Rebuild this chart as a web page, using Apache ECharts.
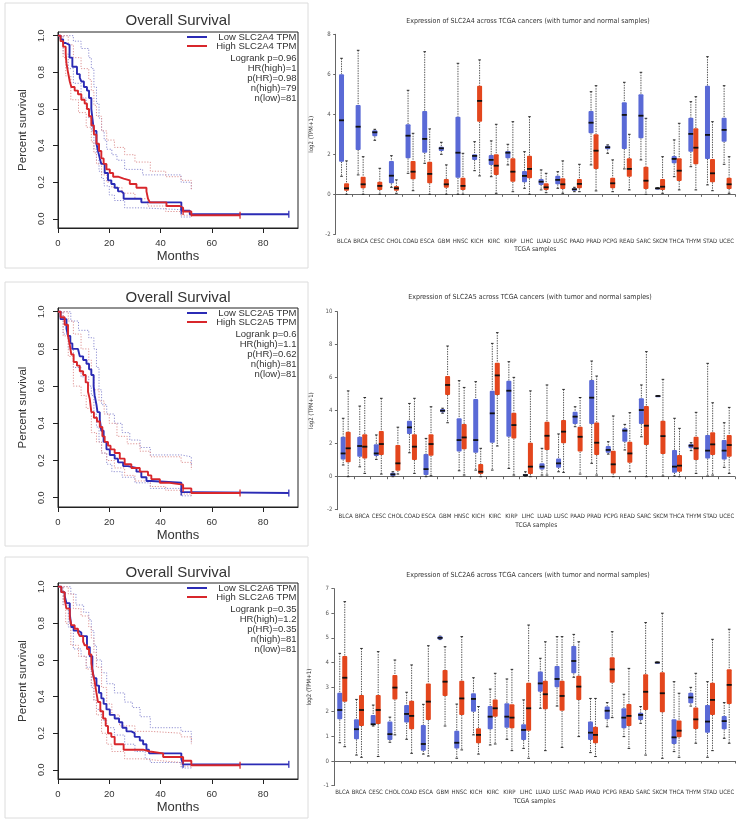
<!DOCTYPE html>
<html>
<head>
<meta charset="utf-8">
<script src="https://cdn.jsdelivr.net/npm/echarts/dist/echarts.min.js"></script>
<style>html,body{margin:0;padding:0;background:#fff;}#c{width:737px;height:819px;}</style>
</head>
<body>
<div id="c"></div>
<script>
// ---------------- DATA ----------------
const categories = ['BLCA','BRCA','CESC','CHOL','COAD','ESCA','GBM','HNSC','KICH','KIRC','KIRP','LIHC','LUAD','LUSC','PAAD','PRAD','PCPG','READ','SARC','SKCM','THCA','THYM','STAD','UCEC'];
const monthTicks = [0, 20, 40, 60, 80];
const survTicks = [0, 0.2, 0.4, 0.6, 0.8, 1.0];

// [min, q1, median, q3, max]  (normal = blue, tumor = red)
const slc2a4Normal = [[0.9,1.63,3.7,6.0,6.8],[0.97,2.22,3.38,4.47,7.2],[2.7,2.9,3.1,3.2,3.25],[0.35,0.55,0.93,1.67,1.93],[1.05,1.8,2.93,3.5,5.2],[1.55,2.08,2.77,4.17,7.13],[2.0,2.17,2.3,2.38,2.6],[0,0.83,2.08,3.88,6.55],[1.18,1.72,1.92,2.0,2.63],[0.88,1.47,1.72,1.97,2.67],[1.47,1.8,2.08,2.17,2.5],[0.3,0.6,0.92,1.17,2.13],[0.22,0.47,0.63,0.77,1.22],[0.3,0.5,0.72,0.93,1.13],[0.13,0.18,0.25,0.3,0.35],[1.47,3.05,3.58,4.17,5.13],[2.05,2.25,2.35,2.43,2.47],[1.27,2.27,3.97,4.6,5.6],[1.72,2.8,3.93,5.0,6.1],[0.27,0.28,0.3,0.32,0.33],[0.88,1.55,1.77,1.92,2.72],[1.38,2.13,3.02,3.83,4.63],[0.47,1.77,2.97,5.43,6.88],[1.5,2.63,3.22,3.83,5.43]];
const slc2a4Tumor = [[0,0.18,0.3,0.55,1.67],[0,0.3,0.5,0.88,1.88],[0,0.22,0.42,0.63,1.3],[0.05,0.18,0.3,0.42,0.72],[0.18,0.75,1.13,1.67,3.05],[0,0.55,1.02,1.63,3.27],[0,0.33,0.5,0.77,1.47],[0,0.22,0.42,0.83,2.05],[0.92,3.63,4.67,5.43,6.72],[0.05,0.97,1.43,2.0,3.5],[0.13,0.63,1.13,1.8,3.63],[0,0.8,1.27,1.93,3.88],[0.08,0.22,0.35,0.55,1.05],[0.05,0.27,0.5,0.8,1.67],[0.13,0.3,0.52,0.77,1.5],[0.17,1.27,2.18,3.0,5.43],[0.13,0.3,0.55,0.83,1.72],[0.22,0.88,1.27,1.8,3.0],[0,0.27,0.68,1.38,3.8],[0.05,0.22,0.38,0.77,1.88],[0.22,0.67,1.18,1.8,3.55],[0.22,1.5,2.33,3.3,4.88],[0.18,0.6,1.05,1.77,3.63],[0.05,0.27,0.5,0.83,1.88]];

const slc2a5Normal = [[0.71,1.05,1.41,2.42,3.54],[0.6,1.21,1.86,2.42,4.28],[1.05,1.25,1.41,1.96,2.53],[0,0.04,0.14,0.24,0.3],[1.45,2.59,2.99,3.39,4.44],[0,0.1,0.46,1.37,2.32],[3.85,3.9,4.0,4.1,4.15],[0.36,1.52,2.22,3.54,5.82],[0.4,1.45,2.22,4.71,5.76],[0.4,2.06,3.84,5.21,8.08],[0.5,2.42,5.21,5.82,6.97],[0.02,0.05,0.1,0.15,0.3],[0.1,0.44,0.61,0.81,1.72],[0.3,0.55,0.81,1.11,2.59],[3.03,3.19,3.64,3.94,4.24],[0.81,3.19,4.79,5.86,7.01],[1.37,1.45,1.62,1.86,2.12],[1.62,2.12,2.79,2.93,3.17],[2.42,3.19,4.04,4.75,5.56],[4.86,4.87,4.89,4.91,4.92],[0.04,0.24,0.61,1.62,3.54],[1.58,1.72,1.88,1.98,2.06],[0.04,1.11,1.58,2.53,6.87],[0.57,1.05,1.58,2.22,3.27]];
const slc2a5Tumor = [[0,0.87,1.72,2.73,5.2],[0.2,1.11,1.82,2.57,4.8],[0.16,1.31,1.98,2.77,4.75],[0.16,0.36,0.81,1.92,3.0],[0.2,1.01,1.82,2.57,4.75],[0.06,1.27,1.98,2.57,4.24],[3.27,4.95,5.56,6.1,7.92],[0.1,1.66,2.38,3.19,5.41],[0,0.16,0.3,0.77,1.72],[1.86,4.95,6.14,6.91,8.73],[0.1,2.32,3.13,3.88,6.02],[0,0.16,0.61,2.06,5.2],[0.1,1.62,2.48,3.33,5.56],[0.26,2.02,2.73,3.43,5.29],[0.16,1.52,2.42,3.03,4.8],[0.1,1.31,2.06,3.29,6.1],[0,0.2,0.75,1.58,3.68],[0.3,0.85,1.41,2.12,3.88],[0,1.92,3.09,4.28,7.58],[0.04,1.37,2.46,3.39,5.9],[0,0.3,0.67,1.31,2.93],[0.2,1.01,1.72,2.42,3.9],[0.1,1.31,1.96,2.69,4.48],[0.2,1.21,1.92,2.53,4.2]];

const slc2a6Normal = [[0.74,1.69,2.07,2.77,4.37],[0.24,0.88,1.29,1.69,2.5],[1.42,1.46,1.49,1.87,2.27],[0.76,0.85,1.09,1.6,1.78],[0.88,1.56,1.91,2.27,2.79],[0.28,0.42,0.69,1.46,2.3],[4.93,4.93,5.0,5.07,5.07],[0.11,0.51,0.74,1.23,2.31],[1.06,2.0,2.52,2.75,3.38],[0.65,1.29,1.8,2.23,2.92],[0.88,1.35,1.8,2.34,3.33],[0.51,0.85,1.26,1.49,2.48],[2.14,2.81,3.15,3.63,4.17],[2.23,2.99,3.33,3.86,5.05],[3.4,3.56,4.06,4.67,5.14],[0.34,0.85,1.15,1.6,2.54],[1.39,1.69,2.04,2.21,2.37],[0.99,1.33,1.76,2.14,2.71],[1.53,1.66,1.87,1.96,2.21],[3.98,3.99,4.0,4.01,4.02],[0.38,0.69,0.96,1.69,3.22],[2.23,2.34,2.58,2.77,2.99],[0.15,1.15,1.6,2.27,3.22],[0.92,1.29,1.62,1.83,2.37]];
const slc2a6Tumor = [[0.58,2.41,3.38,4.26,6.47],[0.15,1.42,2.07,2.68,4.57],[0.18,1.5,2.07,2.68,4.44],[1.06,2.5,2.98,3.49,4.1],[0.31,1.29,1.83,2.45,3.9],[0.2,1.66,2.41,3.15,4.68],[1.42,2.64,3.22,3.69,4.64],[0.45,1.87,2.54,3.26,5.05],[0.28,0.72,1.06,1.33,2.21],[0.69,1.8,2.14,2.5,3.56],[0.42,1.33,1.76,2.3,3.72],[0.11,1.23,2.14,3.18,5.52],[0.42,2.1,2.71,3.26,4.84],[0.55,2.04,2.64,3.26,5.05],[0.99,2.48,3.02,3.46,4.84],[0.18,0.72,1.06,1.39,2.54],[1.76,3.18,3.72,4.21,5.25],[0.51,1.42,1.83,2.31,3.76],[0.24,2.07,2.81,3.52,5.62],[0.11,1.98,2.75,3.6,6.0],[0.15,0.96,1.23,1.64,2.75],[0.72,1.3,1.69,2.17,3.56],[0.42,1.87,2.48,3.18,4.94],[0.72,2.31,3.09,3.72,5.35]];

// Kaplan-Meier step data [months, survival]
const kmLow4 = [[0,1],[1.0,0.98],[2.0,0.96],[3.0,0.95],[4.5,0.88],[5.6,0.83],[7.4,0.79],[8.5,0.77],[9.1,0.75],[10.1,0.72],[11.3,0.70],[12.1,0.66],[13.0,0.60],[13.4,0.55],[14.0,0.48],[15.0,0.41],[15.6,0.37],[16.3,0.33],[16.9,0.30],[18.2,0.25],[19.5,0.21],[20.8,0.19],[22.1,0.17],[23.4,0.15],[24.7,0.14],[25.6,0.11],[32.5,0.09],[48.1,0.045],[51.4,0.025],[90,0.025]];
const kmHigh4 = [[0,1],[1.0,0.97],[2.0,0.94],[3.0,0.90],[3.3,0.85],[3.9,0.80],[4.6,0.75],[5.2,0.72],[6.5,0.70],[7.8,0.68],[9.1,0.65],[10.4,0.63],[11.3,0.60],[12.1,0.56],[13.0,0.51],[14.0,0.46],[15.0,0.41],[16.0,0.37],[16.9,0.33],[17.8,0.30],[18.9,0.27],[20.2,0.25],[21.5,0.23],[23.4,0.22],[25.6,0.21],[28.0,0.19],[30.6,0.17],[34.5,0.15],[35.1,0.11],[35.8,0.09],[42.3,0.07],[47.5,0.06],[48.8,0.04],[52.0,0.02],[71,0.02]];
const ciLowUp4 = [[0,1],[5,1],[6,0.97],[9,0.93],[12,0.88],[13,0.82],[14,0.72],[15,0.63],[16,0.55],[17,0.48],[18,0.43],[19,0.38],[21,0.35],[23,0.32],[26,0.27],[33,0.24],[48,0.2],[52,0.16]];
const ciLowLo4 = [[0,1],[2,0.9],[4,0.82],[6,0.74],[9,0.66],[11,0.6],[12,0.55],[13,0.48],[14,0.38],[15,0.32],[16,0.26],[17,0.22],[18,0.18],[20,0.13],[22,0.1],[26,0.06],[33,0.05],[48,0.01],[52,0.01]];
const ciHighUp4 = [[0,1],[3,1],[4,0.95],[6,0.88],[9,0.82],[12,0.76],[13,0.7],[14,0.62],[15,0.56],[17,0.48],[19,0.43],[22,0.39],[26,0.35],[30,0.31],[36,0.26],[42,0.23],[48,0.21],[52,0.16]];
const ciHighLo4 = [[0,1],[2,0.88],[3,0.78],[5,0.65],[8,0.58],[11,0.5],[13,0.42],[14,0.36],[15,0.3],[17,0.24],[19,0.2],[21,0.17],[25,0.14],[30,0.11],[35,0.07],[42,0.04],[48,0.02],[52,0.01]];
const censorLow4 = [[48.1,0.045],[90,0.025]];
const censorHigh4 = [[48.8,0.04],[71,0.02]];

const kmLow5 = [[0,1],[1.0,0.96],[3.3,0.91],[3.9,0.87],[4.8,0.83],[5.6,0.80],[7.8,0.79],[8.5,0.76],[9.8,0.74],[11.1,0.72],[12.1,0.69],[13.0,0.66],[13.9,0.60],[14.3,0.55],[15.0,0.50],[15.4,0.46],[16.3,0.42],[16.9,0.36],[17.8,0.30],[18.9,0.26],[20.2,0.23],[22.1,0.21],[23.4,0.19],[25.4,0.17],[27.3,0.16],[30.6,0.14],[32.5,0.11],[34.5,0.09],[36.4,0.08],[48.1,0.03],[52.0,0.025],[90,0.025]];
const kmHigh5 = [[0,1],[1.0,0.97],[2.6,0.93],[3.9,0.87],[4.6,0.82],[5.2,0.77],[6.1,0.73],[7.4,0.71],[8.5,0.68],[9.8,0.66],[10.8,0.62],[11.7,0.57],[12.4,0.53],[13.0,0.46],[14.0,0.43],[15.2,0.41],[16.3,0.38],[17.3,0.33],[18.2,0.30],[19.5,0.28],[20.5,0.26],[22.1,0.24],[24.1,0.21],[26.0,0.18],[28.6,0.16],[31.9,0.14],[35.1,0.12],[36.4,0.10],[39.7,0.08],[43.6,0.07],[48.8,0.05],[52.0,0.025],[71,0.025]];
const ciLowUp5 = [[0,1],[4,1],[5,0.95],[8,0.9],[12,0.86],[14,0.8],[15,0.7],[16,0.58],[17,0.5],[19,0.45],[22,0.4],[25,0.35],[28,0.31],[32,0.27],[36,0.23],[48,0.22],[52,0.17]];
const ciLowLo5 = [[0,1],[2,0.88],[4,0.8],[6,0.7],[9,0.65],[12,0.6],[13,0.55],[14,0.45],[15,0.38],[16,0.3],[17,0.24],[19,0.18],[21,0.14],[25,0.11],[30,0.08],[36,0.05],[48,0.01],[52,0.01]];
const ciHighUp5 = [[0,1],[3,1],[4,0.95],[6,0.88],[9,0.8],[12,0.74],[13,0.66],[14,0.58],[16,0.52],[18,0.45],[20,0.4],[23,0.33],[27,0.29],[32,0.25],[36,0.22],[48,0.19],[52,0.15]];
const ciHighLo5 = [[0,1],[2,0.87],[4,0.76],[6,0.6],[9,0.55],[11,0.48],[13,0.35],[15,0.3],[17,0.24],[19,0.2],[22,0.16],[26,0.12],[30,0.09],[36,0.06],[42,0.04],[48,0.02],[52,0.01]];
const censorLow5 = [[48.1,0.03],[90,0.025]];
const censorHigh5 = [[48.8,0.05],[71,0.025]];

const kmLow6 = [[0,1],[1.3,0.97],[2.6,0.95],[3.3,0.91],[4.6,0.85],[5.2,0.78],[6.1,0.76],[7.8,0.75],[9.1,0.73],[11.3,0.67],[12.4,0.62],[13.4,0.55],[14.0,0.50],[15.0,0.46],[16.0,0.42],[16.9,0.39],[17.8,0.36],[18.9,0.33],[20.2,0.30],[22.1,0.28],[23.8,0.26],[25.1,0.23],[26.7,0.21],[28.6,0.20],[29.9,0.18],[31.9,0.16],[33.2,0.14],[34.5,0.11],[35.5,0.09],[48.1,0.06],[48.8,0.03],[90,0.03]];
const kmHigh6 = [[0,1],[1.3,0.97],[2.6,0.93],[3.3,0.88],[4.6,0.83],[5.2,0.79],[6.5,0.77],[7.8,0.75],[8.5,0.73],[9.8,0.70],[10.4,0.68],[11.3,0.66],[12.1,0.63],[13.0,0.58],[13.7,0.52],[14.3,0.48],[15.0,0.42],[15.6,0.37],[16.5,0.32],[17.6,0.28],[18.6,0.24],[19.5,0.20],[20.8,0.18],[22.1,0.14],[25.6,0.11],[33.2,0.10],[35.8,0.09],[41.0,0.07],[48.8,0.05],[52.0,0.025],[71,0.025]];
const ciLowUp6 = [[0,1],[4,1],[5,0.96],[7,0.9],[10,0.86],[12,0.82],[13,0.76],[14,0.68],[15,0.6],[17,0.53],[19,0.47],[22,0.42],[26,0.37],[29,0.34],[32,0.29],[36,0.23],[48,0.21],[52,0.15]];
const ciLowLo6 = [[0,1],[2,0.9],[4,0.78],[6,0.66],[9,0.62],[11,0.56],[13,0.45],[14,0.38],[15,0.33],[17,0.27],[19,0.23],[22,0.19],[26,0.14],[30,0.1],[34,0.06],[36,0.04],[48,0.01],[52,0.01]];
const ciHighUp6 = [[0,1],[3,1],[4,0.96],[6,0.88],[9,0.84],[12,0.78],[13,0.72],[14,0.64],[15,0.56],[17,0.45],[19,0.36],[21,0.3],[24,0.24],[30,0.21],[36,0.2],[48,0.18],[52,0.14]];
const ciHighLo6 = [[0,1],[2,0.9],[3,0.8],[5,0.68],[8,0.62],[11,0.55],[13,0.47],[14,0.38],[15,0.3],[17,0.2],[19,0.14],[21,0.1],[26,0.06],[33,0.05],[40,0.04],[48,0.02],[52,0.01]];
const censorLow6 = [[48.8,0.03],[90,0.03]];
const censorHigh6 = [[48.8,0.05],[71,0.025]];

const genes = ['SLC2A4', 'SLC2A5', 'SLC2A6'];
const kmStats4 = ['Logrank p=0.96', 'HR(high)=1', 'p(HR)=0.98', 'n(high)=79', 'n(low)=81'];
const kmStats5 = ['Logrank p=0.6', 'HR(high)=1.1', 'p(HR)=0.62', 'n(high)=81', 'n(low)=81'];
const kmStats6 = ['Logrank p=0.35', 'HR(high)=1.2', 'p(HR)=0.35', 'n(high)=81', 'n(low)=81'];
const boxYRange4 = [-2, 8, 2];
const boxYRange5 = [-2, 10, 2];
const boxYRange6 = [-1, 7, 1];

// ---------------- LAYOUT / STYLE ----------------
const rows = [
  {gene: genes[0], low: kmLow4, high: kmHigh4, ci: [ciLowUp4, ciLowLo4, ciHighUp4, ciHighLo4], cl: censorLow4, ch: censorHigh4, stats: kmStats4, normal: slc2a4Normal, tumor: slc2a4Tumor, yr: boxYRange4,
   kmTop: 32, kmH: 196, kmTitleY: 20.5, panel: [5, 3, 303, 265],
   bxTop: 34.3, bxH: 200, bxLeft: 335.7, bxW: 402.5, bxTitleY: 20.7, bxTitleX: 528},
  {gene: genes[1], low: kmLow5, high: kmHigh5, ci: [ciLowUp5, ciLowLo5, ciHighUp5, ciHighLo5], cl: censorLow5, ch: censorHigh5, stats: kmStats5, normal: slc2a5Normal, tumor: slc2a5Tumor, yr: boxYRange5,
   kmTop: 308, kmH: 199, kmTitleY: 298, panel: [5, 282, 303, 264],
   bxTop: 311.7, bxH: 198, bxLeft: 337.4, bxW: 405.6, bxTitleY: 296.7, bxTitleX: 530},
  {gene: genes[2], low: kmLow6, high: kmHigh6, ci: [ciLowUp6, ciLowLo6, ciHighUp6, ciHighLo6], cl: censorLow6, ch: censorHigh6, stats: kmStats6, normal: slc2a6Normal, tumor: slc2a6Tumor, yr: boxYRange6,
   kmTop: 583, kmH: 196, kmTitleY: 573, panel: [5, 557, 303, 261],
   bxTop: 588.6, bxH: 197, bxLeft: 333.9, bxW: 409, bxTitleY: 575, bxTitleX: 528}
];

const KM_LEFT = 58, KM_W = 240;
const BLUE = '#2B2BB5', RED = '#D8262B';
const BLUE_CI = '#8F8FD2', RED_CI = '#DE9494';
const NORMAL_C = '#5A6AD6', TUMOR_C = '#E3461D';
const SANS = '"Liberation Sans", Arial, sans-serif';
const NARROW = '"Liberation Sans Narrow", "Arial Narrow", "DejaVu Sans Condensed", "Liberation Sans", sans-serif';

const grids = [], xAxes = [], yAxes = [], series = [], graphics = [];

function boxRenderer(offset, bw, color) {
  return function (params, api) {
    const cat = api.value(0);
    const cx = api.coord([cat, 0])[0] + offset;
    const yy = k => api.coord([cat, api.value(k)])[1];
    const yMin = yy(1), yQ1 = yy(2), yMed = yy(3), yQ3 = yy(4), yMax = yy(5);
    const dash = {stroke: '#2a2a2a', lineWidth: 0.8, lineDash: [1.4, 1.1]};
    const cap = {stroke: '#2a2a2a', lineWidth: 1};
    return {
      type: 'group',
      children: [
        {type: 'line', shape: {x1: cx, y1: yMax, x2: cx, y2: yQ3}, style: dash},
        {type: 'line', shape: {x1: cx, y1: yQ1, x2: cx, y2: yMin}, style: dash},
        {type: 'line', shape: {x1: cx - 1.3, y1: yMax, x2: cx + 1.3, y2: yMax}, style: cap},
        {type: 'line', shape: {x1: cx - 1.3, y1: yMin, x2: cx + 1.3, y2: yMin}, style: cap},
        {type: 'rect', shape: {x: cx - bw / 2, y: yQ3, width: bw, height: Math.max(yQ1 - yQ3, 1.5), r: 1}, style: {fill: color}},
        {type: 'line', shape: {x1: cx - bw / 2, y1: yMed, x2: cx + bw / 2, y2: yMed}, style: {stroke: '#111', lineWidth: 1.8}}
      ]
    };
  };
}

rows.forEach((r, i) => {
  // ---------- KM plot ----------
  const gk = grids.length;
  grids.push({left: KM_LEFT, top: r.kmTop, width: KM_W, height: r.kmH, show: true, borderColor: '#222', borderWidth: 1, backgroundColor: 'transparent'});
  xAxes.push({gridIndex: gk, type: 'value', min: 0, max: 93.6,
    axisLine: {show: true, onZero: false, lineStyle: {color: '#222', width: 1}},
    axisTick: {show: true, length: 5, lineStyle: {color: '#222'}, customValues: monthTicks},
    axisLabel: {show: true, margin: 10, fontSize: 9.5, color: '#333', fontFamily: SANS, customValues: monthTicks},
    splitLine: {show: false},
    name: 'Months', nameLocation: 'middle', nameGap: 22, nameTextStyle: {fontSize: 13, color: '#333', fontFamily: SANS}});
  yAxes.push({gridIndex: gk, type: 'value', min: -0.05, max: 1.02,
    axisLine: {show: true, onZero: false, lineStyle: {color: '#222', width: 1}},
    axisTick: {show: true, length: 5, lineStyle: {color: '#222'}, customValues: survTicks},
    axisLabel: {show: true, rotate: 90, margin: 12, fontSize: 9, color: '#333', fontFamily: SANS, customValues: survTicks, formatter: v => v.toFixed(1)},
    splitLine: {show: false},
    name: 'Percent survival', nameLocation: 'middle', nameGap: 29, nameTextStyle: {fontSize: 11.5, color: '#333', fontFamily: SANS}});
  const ciCols = [BLUE_CI, BLUE_CI, RED_CI, RED_CI];
  r.ci.forEach((d, k) => {
    series.push({type: 'line', xAxisIndex: gk, yAxisIndex: gk, data: d, step: 'end', symbol: 'none', silent: true,
      lineStyle: {color: ciCols[k], width: 1, type: [1.2, 1.6]}, z: 2});
  });
  series.push({type: 'line', xAxisIndex: gk, yAxisIndex: gk, data: r.low, step: 'end', symbol: 'none', lineStyle: {color: BLUE, width: 1.9}, z: 4});
  series.push({type: 'line', xAxisIndex: gk, yAxisIndex: gk, data: r.high, step: 'end', symbol: 'none', lineStyle: {color: RED, width: 1.9}, z: 5});
  series.push({type: 'scatter', xAxisIndex: gk, yAxisIndex: gk, data: r.cl, symbol: 'rect', symbolSize: [1.6, 7], itemStyle: {color: BLUE}, z: 6});
  series.push({type: 'scatter', xAxisIndex: gk, yAxisIndex: gk, data: r.ch, symbol: 'rect', symbolSize: [1.6, 7], itemStyle: {color: RED}, z: 6});

  // panel border
  graphics.push({type: 'rect', shape: {x: r.panel[0], y: r.panel[1], width: r.panel[2], height: r.panel[3]}, style: {fill: 'none', stroke: '#dcdcdc', lineWidth: 1}, z: 0});
  // KM title
  graphics.push({type: 'text', x: KM_LEFT + KM_W / 2, y: r.kmTitleY, style: {text: 'Overall Survival', fill: '#333', font: '15px ' + SANS, align: 'center', verticalAlign: 'middle'}, z: 10});
  // legend
  const lx1 = 187, lx2 = 207, tr = 296.5;
  const offs = [5, 14, 26.5, 36.5, 46.5, 56.5, 66.5];
  graphics.push({type: 'line', shape: {x1: lx1, y1: r.kmTop + offs[0], x2: lx2, y2: r.kmTop + offs[0]}, style: {stroke: BLUE, lineWidth: 2}, z: 10});
  graphics.push({type: 'line', shape: {x1: lx1, y1: r.kmTop + offs[1], x2: lx2, y2: r.kmTop + offs[1]}, style: {stroke: RED, lineWidth: 2}, z: 10});
  graphics.push({type: 'text', x: tr, y: r.kmTop + offs[0], style: {text: 'Low ' + r.gene + ' TPM', fill: '#333', font: '9.5px ' + SANS, align: 'right', verticalAlign: 'middle'}, z: 10});
  graphics.push({type: 'text', x: tr, y: r.kmTop + offs[1], style: {text: 'High ' + r.gene + ' TPM', fill: '#333', font: '9.5px ' + SANS, align: 'right', verticalAlign: 'middle'}, z: 10});
  r.stats.forEach((s, k) => {
    graphics.push({type: 'text', x: tr, y: r.kmTop + offs[k + 2], style: {text: s, fill: '#333', font: '9.5px ' + SANS, align: 'right', verticalAlign: 'middle'}, z: 10});
  });

  // ---------- Box plot ----------
  const gb = grids.length;
  grids.push({left: r.bxLeft, top: r.bxTop, width: r.bxW, height: r.bxH, show: false});
  xAxes.push({gridIndex: gb, type: 'category', data: categories, boundaryGap: true,
    axisLine: {show: true, lineStyle: {color: '#666', width: 1}},
    axisTick: {show: true, length: 2.5, lineStyle: {color: '#666'}},
    axisLabel: {interval: 0, margin: 4, fontSize: 6, color: '#333', fontFamily: NARROW},
    name: 'TCGA samples', nameLocation: 'middle', nameGap: 12, nameTextStyle: {fontSize: 6.5, color: '#333', fontFamily: NARROW}});
  yAxes.push({gridIndex: gb, type: 'value', min: r.yr[0], max: r.yr[1], interval: r.yr[2],
    axisLine: {show: true, lineStyle: {color: '#666', width: 1}},
    axisTick: {show: true, length: 2.5, lineStyle: {color: '#666'}},
    axisLabel: {margin: 5, fontSize: 6, color: '#555', fontFamily: NARROW},
    splitLine: {show: false},
    name: 'log2 (TPM+1)', nameLocation: 'middle', nameGap: 11, nameTextStyle: {fontSize: 6, color: '#333', fontFamily: NARROW}});
  series.push({type: 'custom', xAxisIndex: gb, yAxisIndex: gb, renderItem: boxRenderer(-2.5, 5, NORMAL_C),
    encode: {x: 0, y: [1, 2, 3, 4, 5]}, data: r.normal.map((v, k) => [k].concat(v)), clip: false, z: 3});
  series.push({type: 'custom', xAxisIndex: gb, yAxisIndex: gb, renderItem: boxRenderer(2.5, 5, TUMOR_C),
    encode: {x: 0, y: [1, 2, 3, 4, 5]}, data: r.tumor.map((v, k) => [k].concat(v)), clip: false, z: 3});
  graphics.push({type: 'text', x: r.bxTitleX, y: r.bxTitleY, style: {text: 'Expression of ' + r.gene + ' across TCGA cancers (with tumor and normal samples)', fill: '#333', font: '7px ' + NARROW, align: 'center', verticalAlign: 'middle'}, z: 10});
});

const chart = echarts.init(document.getElementById('c'), null, {renderer: 'canvas'});
chart.setOption({
  animation: false,
  backgroundColor: '#ffffff',
  grid: grids,
  xAxis: xAxes,
  yAxis: yAxes,
  series: series,
  graphic: graphics
});
</script>
</body>
</html>
